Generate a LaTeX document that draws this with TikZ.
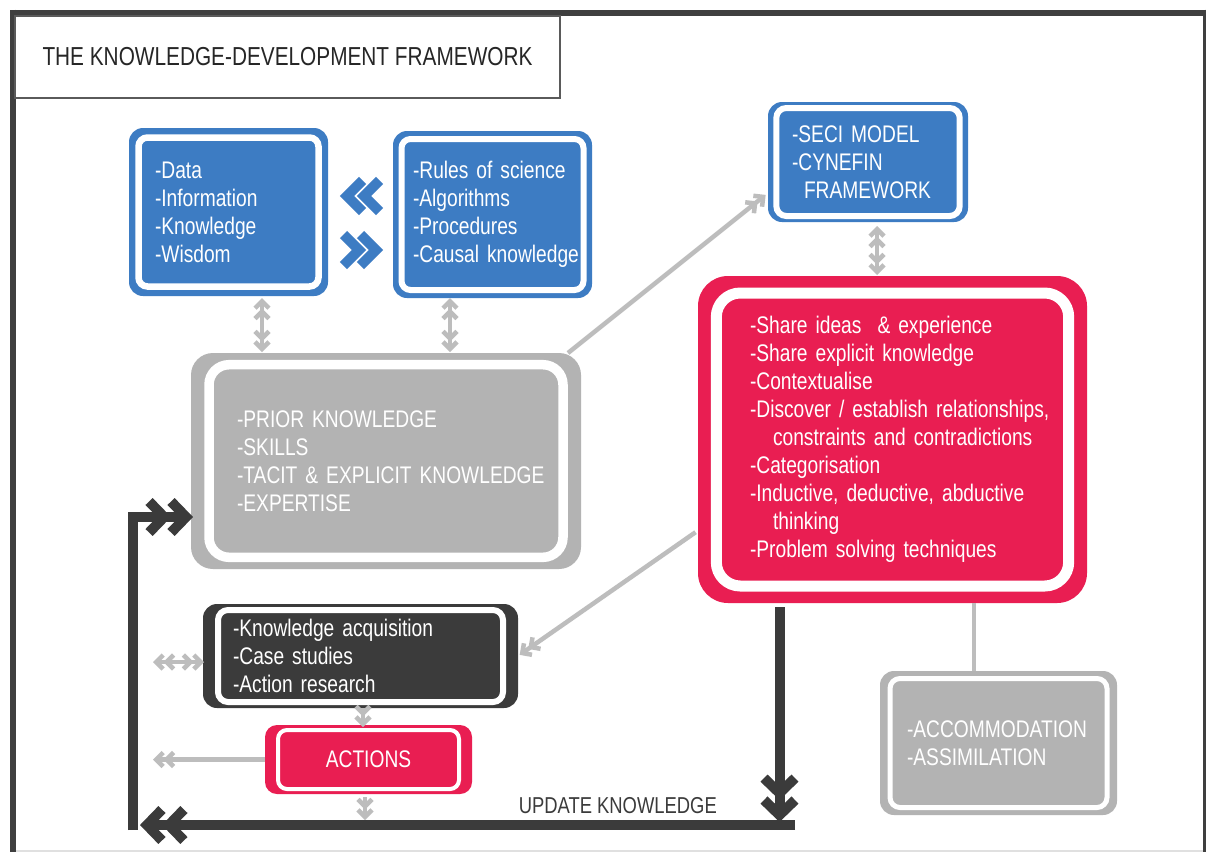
\documentclass[tikz,border=0pt]{standalone}
\usepackage{fontspec}
\setmainfont{Liberation Sans}[FakeStretch=0.80]
\usetikzlibrary{arrows.meta}

\definecolor{kblue}{HTML}{3D7CC3}
\definecolor{kpink}{HTML}{E91E52}
\definecolor{kgray}{HTML}{B3B3B3}
\definecolor{kdark}{HTML}{3B3B3B}
\definecolor{karrow}{HTML}{BDBDBD}
\definecolor{kframe}{HTML}{3F3F3F}
\definecolor{ktitle}{HTML}{5A5A5A}

\newcommand{\kbody}{\fontsize{24}{28}\selectfont}
\newcommand{\ktitlefont}{\fontsize{26}{30}\selectfont}

\tikzset{
  % rounded box: coloured body with a white ring inside it
  kbox/.style={rounded corners=#1, outer sep=0pt, inner ysep=0pt,
    text=white, font=\kbody, align=left,
    execute at begin node={\hyphenpenalty=10000\exhyphenpenalty=10000\hbadness=10000\hfuzz=100pt}},
  kring/.style args={#1/#2/#3/#4}{%
    path picture={\draw[white, line width=#3, rounded corners=#4]
      ([xshift=#1, yshift=-#2]path picture bounding box.north west) rectangle
      ([xshift=-#1, yshift=#2]path picture bounding box.south east);}},
  % chevron arrow tips
  gtip/.tip={Straight Barb[length=7pt, width=14pt]},
  dtip/.tip={Straight Barb[length=15pt, width=31pt]},
  garrow/.style={karrow, line width=4.5pt},
  darrow/.style={kdark, line width=10pt},
  gone/.style={-{gtip[sep=-2pt] gtip[sep=-2pt]}},
  gboth/.style={{gtip[sep=-2pt] gtip[sep=-2pt]}-{gtip[sep=-2pt] gtip[sep=-2pt]}},
  done/.style={-{dtip[sep=-5pt] dtip[sep=-5pt]}},
  chev/.style={kblue, line width=10pt, line cap=butt, line join=miter},
}

\begin{document}
\begin{tikzpicture}[x=1pt, y=-1pt]
\useasboundingbox (0,0) rectangle (1206,852);
\fill[white] (0,0) rectangle (1206,852);

% outer frame
\draw[kframe, line width=6pt] (10,12.5) -- (1206,12.5);
\draw[kframe, line width=6pt] (13,9.5) -- (13,852);
\draw[kframe, line width=3pt] (1204.5,9.5) -- (1204.5,852);
\draw[black!12, line width=2pt] (16,850.5) -- (1203,850.5);

% title
\node[draw=ktitle, line width=2.5pt, minimum width=545pt, minimum height=82pt,
  inner sep=0pt, font=\ktitlefont, text=black!85] (title) at (287.5,57)
  {THE KNOWLEDGE-DEVELOPMENT FRAMEWORK};

% boxes
\node[kbox=14pt, kring=9.5pt/9.5pt/6.5pt/9pt, fill=kblue,
  minimum width=199pt, minimum height=168pt, text width=147pt, inner xsep=26pt]
  (dikw) at (228.5,212) {-Data\\-Information\\-Knowledge\\-Wisdom};

\node[kbox=14pt, kring=8.5pt/8pt/6pt/9pt, fill=kblue,
  minimum width=199pt, minimum height=167pt, text width=159pt, inner xsep=20pt]
  (rules) at (492.5,214.5) {-Rules~of~science\\-Algorithms\\-Procedures\\-Causal~knowledge};

\node[kbox=14pt, kring=8.3pt/6pt/6pt/10pt, fill=kblue,
  minimum width=200pt, minimum height=120pt, text width=152pt, inner xsep=24pt]
  (seci) at (868,162) {-SECI~MODEL\\-CYNEFIN\\\hspace*{12pt}FRAMEWORK};

\node[kbox=22pt, kring=18pt/11.7pt/9.5pt/20pt, fill=kgray,
  minimum width=390pt, minimum height=216pt, text width=298pt, inner xsep=46pt]
  (prior) at (386,461) {-PRIOR~KNOWLEDGE\\-SKILLS\\-TACIT~\&~EXPLICIT~KNOWLEDGE\\-EXPERTISE};

\node[kbox=30pt, kring=18.3pt/17pt/11pt/24pt, fill=kpink,
  minimum width=389pt, minimum height=327pt, text width=285pt, inner xsep=52pt]
  (share) at (892.5,439.5) {-Share~ideas~~\&~experience\\-Share~explicit~knowledge\\-Contextualise\\-Discover~/~establish~relationships,\\\hspace*{23pt}constraints~and~contradictions\\-Categorisation\\-Inductive,~deductive,~abductive\\\hspace*{23pt}thinking\\-Problem~solving~techniques};

\node[kbox=14pt, kring=15pt/6pt/6pt/10pt, fill=kdark,
  minimum width=315pt, minimum height=104pt, text width=255pt, inner xsep=30pt]
  (acq) at (360.5,656) {-Knowledge~acquisition\\-Case~studies\\-Action~research};

\node[kbox=12pt, kring=13pt/5pt/4pt/9pt, fill=kpink, align=center,
  minimum width=207pt, minimum height=69pt, inner xsep=0pt]
  (actions) at (368.5,759.5) {ACTIONS};

\node[kbox=14pt, kring=10pt/7.5pt/5pt/10pt, fill=kgray,
  minimum width=237pt, minimum height=144pt, text width=183pt, inner xsep=27pt]
  (accom) at (998.5,743) {-ACCOMMODATION\\-ASSIMILATION};

\node[anchor=east, font=\fontsize{23}{26}\selectfont, text=kdark, inner sep=0pt]
  (update) at (717,806) {UPDATE KNOWLEDGE};

% free ends of connectors
\coordinate (acqleft) at (155,662);
\coordinate (actleft) at (155,759.5);
\coordinate (actdown) at (365,818);
\coordinate (pinkdown) at (779.5,817);
\coordinate (loopright) at (795,825);
\coordinate (loopleft) at (145,825);
\coordinate (loopbottom) at (133,830);

% blue double chevrons between the two top boxes
\draw[chev] (362.5,180.5) -- (347,196) -- (362.5,211.5);
\draw[chev] (379.5,180.5) -- (364,196) -- (379.5,211.5);
\draw[chev] (360.5,234.5) -- (376,250) -- (360.5,265.5);
\draw[chev] (343.5,234.5) -- (359,250) -- (343.5,265.5);

% grey connectors
\draw[garrow, gboth, shorten <=4pt, shorten >=3pt]
  ([xshift=33.5pt]dikw.south) -- ([xshift=33.5pt]dikw.south |- prior.north);
\draw[garrow, gboth, shorten <=2pt, shorten >=3pt]
  ([xshift=-42.5pt]rules.south) -- ([xshift=-42.5pt]rules.south |- prior.north);
\draw[garrow, gboth, shorten <=6pt, shorten >=3pt]
  ([xshift=9pt]seci.south) -- ([xshift=9pt]seci.south |- share.north);
\draw[garrow, gone, shorten >=5pt]
  ([xshift=-13pt]prior.north east) -- ([yshift=-31pt]seci.west);
\draw[garrow, gone, shorten <=3pt, shorten >=4pt]
  ([yshift=-91pt]share.west) -- (acq.east);
\draw[garrow, gboth, shorten >=1pt] (acqleft) -- (acqleft -| acq.west);
\draw[garrow, gone]
  ([xshift=2.5pt]acq.south) -- ([xshift=2.5pt]acq.south |- actions.north);
\draw[garrow, gone] (actions.west) -- (actleft);
\draw[garrow, gone, shorten <=3pt] ([xshift=-3.5pt]actions.south) -- (actdown);
\draw[karrow, line width=4pt]
  ([xshift=-24.5pt]accom.north) -- ([xshift=-24.5pt]accom.north |- share.south);

% dark update loop
\draw[darrow, done, shorten <=4pt] ([xshift=-113pt]share.south) -- (pinkdown);
\draw[darrow, done] (loopright) -- (loopleft);
\draw[darrow, done, shorten >=3pt] (loopbottom) |- ([yshift=-56pt]prior.west);
\end{tikzpicture}
\end{document}
